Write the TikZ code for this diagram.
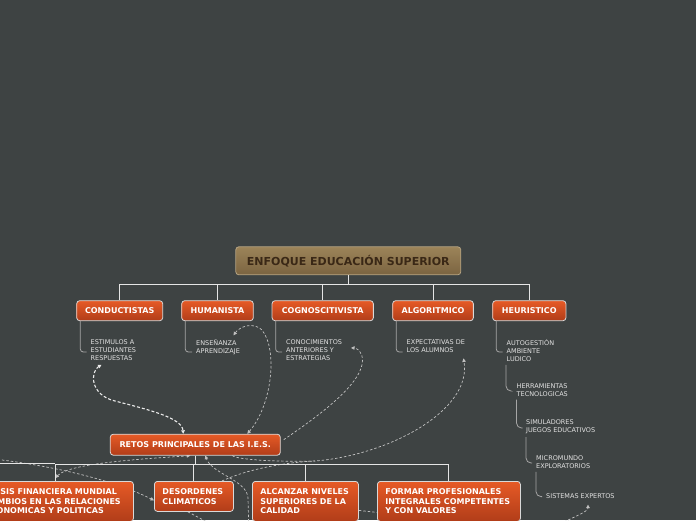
\documentclass[tikz,border=0pt]{standalone}
\usepackage{fontspec}
\setmainfont{DejaVu Sans}
\usetikzlibrary{arrows.meta,positioning,calc}
\definecolor{mapbg}{HTML}{3E4343}
\definecolor{mapbrowntop}{HTML}{9C8459}
\definecolor{mapbrownbot}{HTML}{7B6441}
\definecolor{mapbrowntext}{HTML}{3A2816}
\definecolor{maporangetop}{HTML}{E65A26}
\definecolor{maporangebot}{HTML}{B13D19}
\definecolor{maplink}{HTML}{C2C2C2}
\definecolor{mapleaf}{HTML}{E2E2E2}
\pgfdeclarelayer{paper}
\pgfdeclarelayer{links}
\pgfsetlayers{paper,links,main}

\begin{document}
\begin{tikzpicture}[x=1pt, y=-1pt,
  every node/.style={font=\fontsize{8}{9.5}\selectfont},
  central/.style={rectangle, rounded corners=3pt, draw=mapbrowntop!75!white, line width=0.8pt, top color=mapbrowntop, bottom color=mapbrownbot, text=mapbrowntext, font=\bfseries\fontsize{11}{13}\selectfont, minimum width=225pt, minimum height=28pt, inner sep=0pt},
  topic/.style={rectangle, rounded corners=3pt, draw=white!85!black, line width=0.8pt, top color=maporangetop, bottom color=maporangebot, text=white, font=\bfseries\fontsize{8}{9.5}\selectfont, minimum height=20pt, inner sep=0pt, align=center},
  widetopic/.style={topic, align=left, inner xsep=8pt, inner ysep=0pt, anchor=north west},
  leaf/.style={font=\fontsize{6.5}{8}\selectfont, text=mapleaf, align=left, inner sep=1pt, anchor=north west, execute at begin node={\vphantom{Ó}}},
  tree/.style={white!90!black, line width=0.9pt},
  sub/.style={gray!70!white, line width=0.8pt, rounded corners=3pt},
  chain/.style={sub, rounded corners=5pt},
  rel/.style={maplink, line width=0.7pt, dash pattern=on 2.5pt off 2pt},
  relhi/.style={white!92!black, line width=1.1pt, dash pattern=on 3pt off 2pt},
  tip/.style={-{Triangle[length=3.5pt,width=3.5pt]}},
  tips/.style={{Triangle[length=3.5pt,width=3.5pt]}-{Triangle[length=3.5pt,width=3.5pt]}},
]
  \useasboundingbox (0,0) rectangle (696,520);
  \clip (0,0) rectangle (696,520);
  \begin{pgfonlayer}{paper}
    \fill[mapbg] (0,0) rectangle (696,520);
  \end{pgfonlayer}

  % main topic and its branches
  \node[central] (root) at (348.3,260.8) {ENFOQUE EDUCACIÓN SUPERIOR};
  \node[topic, minimum width=86pt]  (conduc) at (119.7,310.7) {CONDUCTISTAS};
  \node[topic, minimum width=71.6pt] (human) at (217.5,310.7) {HUMANISTA};
  \node[topic, minimum width=101.3pt] (cogn) at (322.7,310.7) {COGNOSCITIVISTA};
  \node[topic, minimum width=80.7pt] (algo)  at (433,310.7)   {ALGORITMICO};
  \node[topic, minimum width=73.3pt] (heur)  at (529.3,310.7) {HEURISTICO};
  \foreach \n in {conduc,human,cogn,algo,heur}
    \draw[tree] (root.south) -- ++(0,9.5) -| (\n.north);

  % subtopics
  \node[leaf] (estim)  at (89.5,338.4)  {ESTIMULOS A\\ESTUDIANTES\\RESPUESTAS};
  \node[leaf] (ensen)  at (195,338.4)   {ENSEÑANZA\\APRENDIZAJE};
  \node[leaf] (conoc)  at (285,338.4)   {CONOCIMIENTOS\\ANTERIORES Y\\ESTRATEGIAS};
  \node[leaf] (expect) at (405.5,338.4) {EXPECTATIVAS DE\\LOS ALUMNOS};
  \node[leaf] (autog)  at (505.5,338.4) {AUTOGESTIÓN\\AMBIENTE\\LUDICO};
  \node[leaf] (herram) at (515.5,382.4) {HERRAMIENTAS\\TECNOLOGICAS};
  \node[leaf] (simul)  at (525,418.6)   {SIMULADORES\\JUEGOS EDUCATIVOS};
  \node[leaf] (micro)  at (535,454.6)   {MICROMUNDO\\EXPLORATORIOS};
  \node[leaf] (sist)   at (545,491.6)   {SISTEMAS EXPERTOS};

  \draw[sub] ([xshift=4pt]conduc.south west) |- ([xshift=-3pt,yshift=-13.6pt]estim.north west);
  \draw[sub] ([xshift=4pt]human.south west)  |- ([xshift=-3pt,yshift=-13.6pt]ensen.north west);
  \draw[sub] ([xshift=4pt]cogn.south west)   |- ([xshift=-3pt,yshift=-13.6pt]conoc.north west);
  \draw[sub] ([xshift=4pt]algo.south west)   |- ([xshift=-3pt,yshift=-13.6pt]expect.north west);
  \draw[sub] ([xshift=4pt]heur.south west)   |- ([xshift=-3pt,yshift=-13.6pt]autog.north west);
  \draw[chain] ([xshift=0.5pt,yshift=-2pt]autog.south west) |- ([xshift=-5pt,yshift=-8.6pt]herram.north west);
  \draw[chain] ([xshift=1pt,yshift=-2pt]herram.south west) |- ([xshift=-2.5pt,yshift=-9.4pt]simul.north west);
  \draw[chain] ([xshift=1pt,yshift=-2pt]simul.south west)  |- ([xshift=-3pt,yshift=-8.4pt]micro.north west);
  \draw[chain] ([xshift=1pt,yshift=-2pt]micro.south west)  |- ([xshift=-3pt,yshift=-5pt]sist.north west);

  % challenges
  \node[topic, minimum width=170pt, minimum height=21pt] (retos) at (195.3,444.7) {RETOS PRINCIPALES DE LAS I.E.S.};
  \node[widetopic, text width=140pt, minimum height=40pt] (crisis) at (-23,481) {CRISIS FINANCIERA MUNDIAL\\CAMBIOS EN LAS RELACIONES\\ECONOMICAS Y POLITICAS};
  \node[widetopic, text width=63pt, minimum height=30pt] (desord) at (154,481) {DESORDENES\\CLIMATICOS};
  \node[widetopic, text width=90pt, minimum height=40pt] (alcanzar) at (252,481) {ALCANZAR NIVELES\\SUPERIORES DE LA\\CALIDAD};
  \node[widetopic, text width=127pt, minimum height=40pt] (formar) at (377,481) {FORMAR PROFESIONALES\\INTEGRALES COMPETENTES\\Y CON VALORES};
  \coordinate (treeleft) at (-30,463.5);
  \foreach \n in {crisis,desord,alcanzar,formar}
    \draw[tree] (retos.south) -- ++(0,8.5) -| (\n.north);
  \draw[tree] (treeleft) -- (treeleft -| crisis.north);

  % relations, behind the boxes
  \coordinate (offleft)   at (-25,457);
  \coordinate (offbottom) at (249,535);
  \coordinate (offdesord) at (222,530);
  \coordinate (offsist)   at (548,530);
  \coordinate (merge)     at (315,461);
  \begin{pgfonlayer}{links}
  \draw[relhi, tips] ([xshift=12pt,yshift=-3pt]estim.south west) .. controls (90,372) and (90,395) .. (115,401) .. controls (150,410) and (182,418) .. ([xshift=-12pt]retos.north);
  \draw[rel, tips] ([xshift=52pt]retos.north) .. controls (272,405) and (278,350) .. (262,330) .. controls (254,322) and (240,326) .. ([xshift=38.5pt,yshift=3pt]ensen.north west);
  \draw[rel, tip] ([xshift=3pt,yshift=5pt]retos.east) .. controls (320,415) and (368,380) .. (362,356) .. controls (360,350) and (356,348) .. ([xshift=66pt,yshift=-9.5pt]conoc.north west);
  \draw[rel, tip] ([xshift=37pt]retos.south) .. controls (238,460) and (280,462) .. (merge) .. controls (390,455) and (472,410) .. ([xshift=58pt,yshift=-20pt]expect.north west);
  \draw[rel] ([xshift=28pt]desord.north) .. controls (250,468) and (290,462) .. (merge);
  \draw[rel, tip] (offsist) .. controls (575,516) and (588,512) .. ([xshift=43pt,yshift=-13pt]sist.north west);
  \draw[rel, tip] (offleft) .. controls (40,463) and (110,478) .. ([yshift=-4pt]desord.west);
  \draw[rel, tips] ([yshift=3pt]crisis.north) .. controls (70,462) and (160,458) .. ([xshift=-5pt]retos.south);
  \draw[rel, tip] (offbottom) -- (248,498) .. controls (247,480) and (212,474) .. ([xshift=10pt]retos.south);
  \draw[rel] ([xshift=-6pt]desord.south) -- (offdesord);
  \draw[rel] ([yshift=-9pt]alcanzar.east) -- ([yshift=-11pt]formar.west);
  \end{pgfonlayer}
\end{tikzpicture}
\end{document}
